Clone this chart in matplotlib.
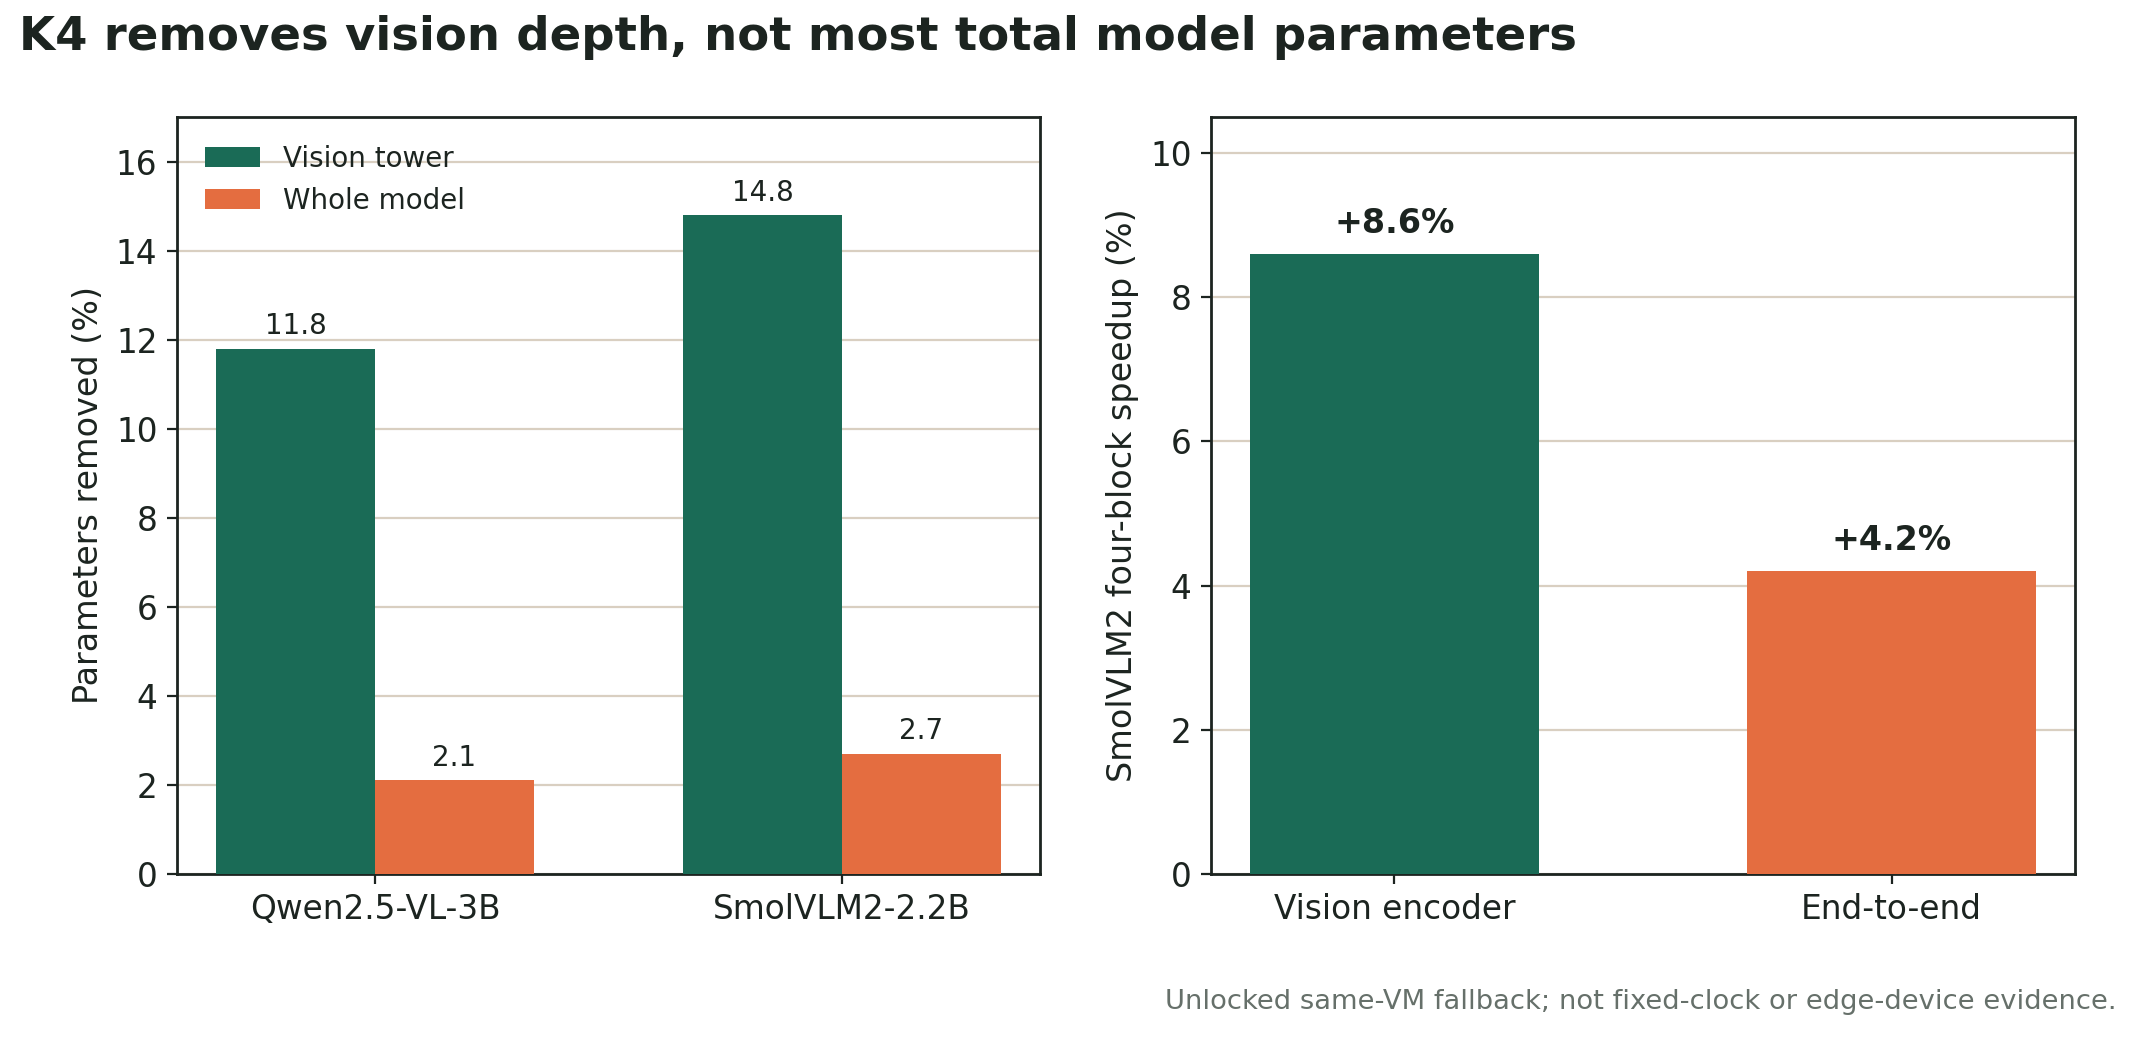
import matplotlib
matplotlib.use('Agg')
import matplotlib.pyplot as plt
import numpy as np

# data
models = ['Qwen2.5-VL-3B', 'SmolVLM2-2.2B']
vision_tower = [11.8, 14.8]
whole_model = [2.1, 2.7]

speed_labels = ['Vision encoder', 'End-to-end']
speedup = [8.6, 4.2]

GREEN = '#1a6b56'
ORANGE = '#e46d40'
GRID = '#d9cfc1'
INK = '#1c2420'

plt.rcParams['font.family'] = 'DejaVu Sans'
plt.rcParams['text.color'] = INK
plt.rcParams['axes.labelcolor'] = INK
plt.rcParams['xtick.color'] = INK
plt.rcParams['ytick.color'] = INK
plt.rcParams['axes.edgecolor'] = INK

fig = plt.figure(figsize=(10.69, 5.185), dpi=200)
ax1 = fig.add_axes([177/2138, 1 - 874/1037, (1040-177)/2138, (874-117)/1037])
ax2 = fig.add_axes([1211/2138, 1 - 874/1037, (2075-1211)/2138, (874-117)/1037])

x = np.arange(len(models))
w = 0.34
b1 = ax1.bar(x - w/2, vision_tower, w, color=GREEN, label='Vision tower', zorder=3)
b2 = ax1.bar(x + w/2, whole_model, w, color=ORANGE, label='Whole model', zorder=3)
for bars in (b1, b2):
    for p in bars:
        ax1.annotate('{:.1f}'.format(p.get_height()), (p.get_x() + p.get_width()/2, p.get_height()),
                     ha='center', va='bottom', xytext=(0, 3), textcoords='offset points', fontsize=10)
ax1.set_ylim(0, 17)
ax1.set_yticks([0, 2, 4, 6, 8, 10, 12, 14, 16])
ax1.set_xticks(x)
ax1.set_xticklabels(models)
ax1.set_ylabel('Parameters removed (%)', fontsize=12)
ax1.legend(loc='upper left', frameon=False, fontsize=10, borderaxespad=0.6)

x2 = np.arange(len(speed_labels))
b3 = ax2.bar(x2, speedup, 0.58, color=[GREEN, ORANGE], zorder=3)
for p in b3:
    ax2.annotate('+{:.1f}%'.format(p.get_height()), (p.get_x() + p.get_width()/2, p.get_height()),
                 ha='center', va='bottom', xytext=(0, 5), textcoords='offset points',
                 fontsize=12, fontweight='bold')
ax2.set_ylim(0, 10.5)
ax2.set_yticks([0, 2, 4, 6, 8, 10])
ax2.set_xticks(x2)
ax2.set_xticklabels(speed_labels)
ax2.set_ylabel('SmolVLM2 four-block speedup (%)', fontsize=12)

for ax in (ax1, ax2):
    ax.grid(axis='y', color=GRID, linewidth=0.8, zorder=0)
    ax.set_axisbelow(True)
    ax.tick_params(labelsize=11.8)
    for s in ax.spines.values():
        s.set_linewidth(1.0)

fig.text(19/2138, 1 - 38/1037, 'K4 removes vision depth, not most total model parameters',
         fontsize=16.8, fontweight='bold', ha='left', va='center')
fig.text(2117/2138, 1 - 1002/1037, 'Unlocked same-VM fallback; not fixed-clock or edge-device evidence.',
         fontsize=9.85, color='#66706a', ha='right', va='center')

fig.savefig('out.png', dpi=200)
